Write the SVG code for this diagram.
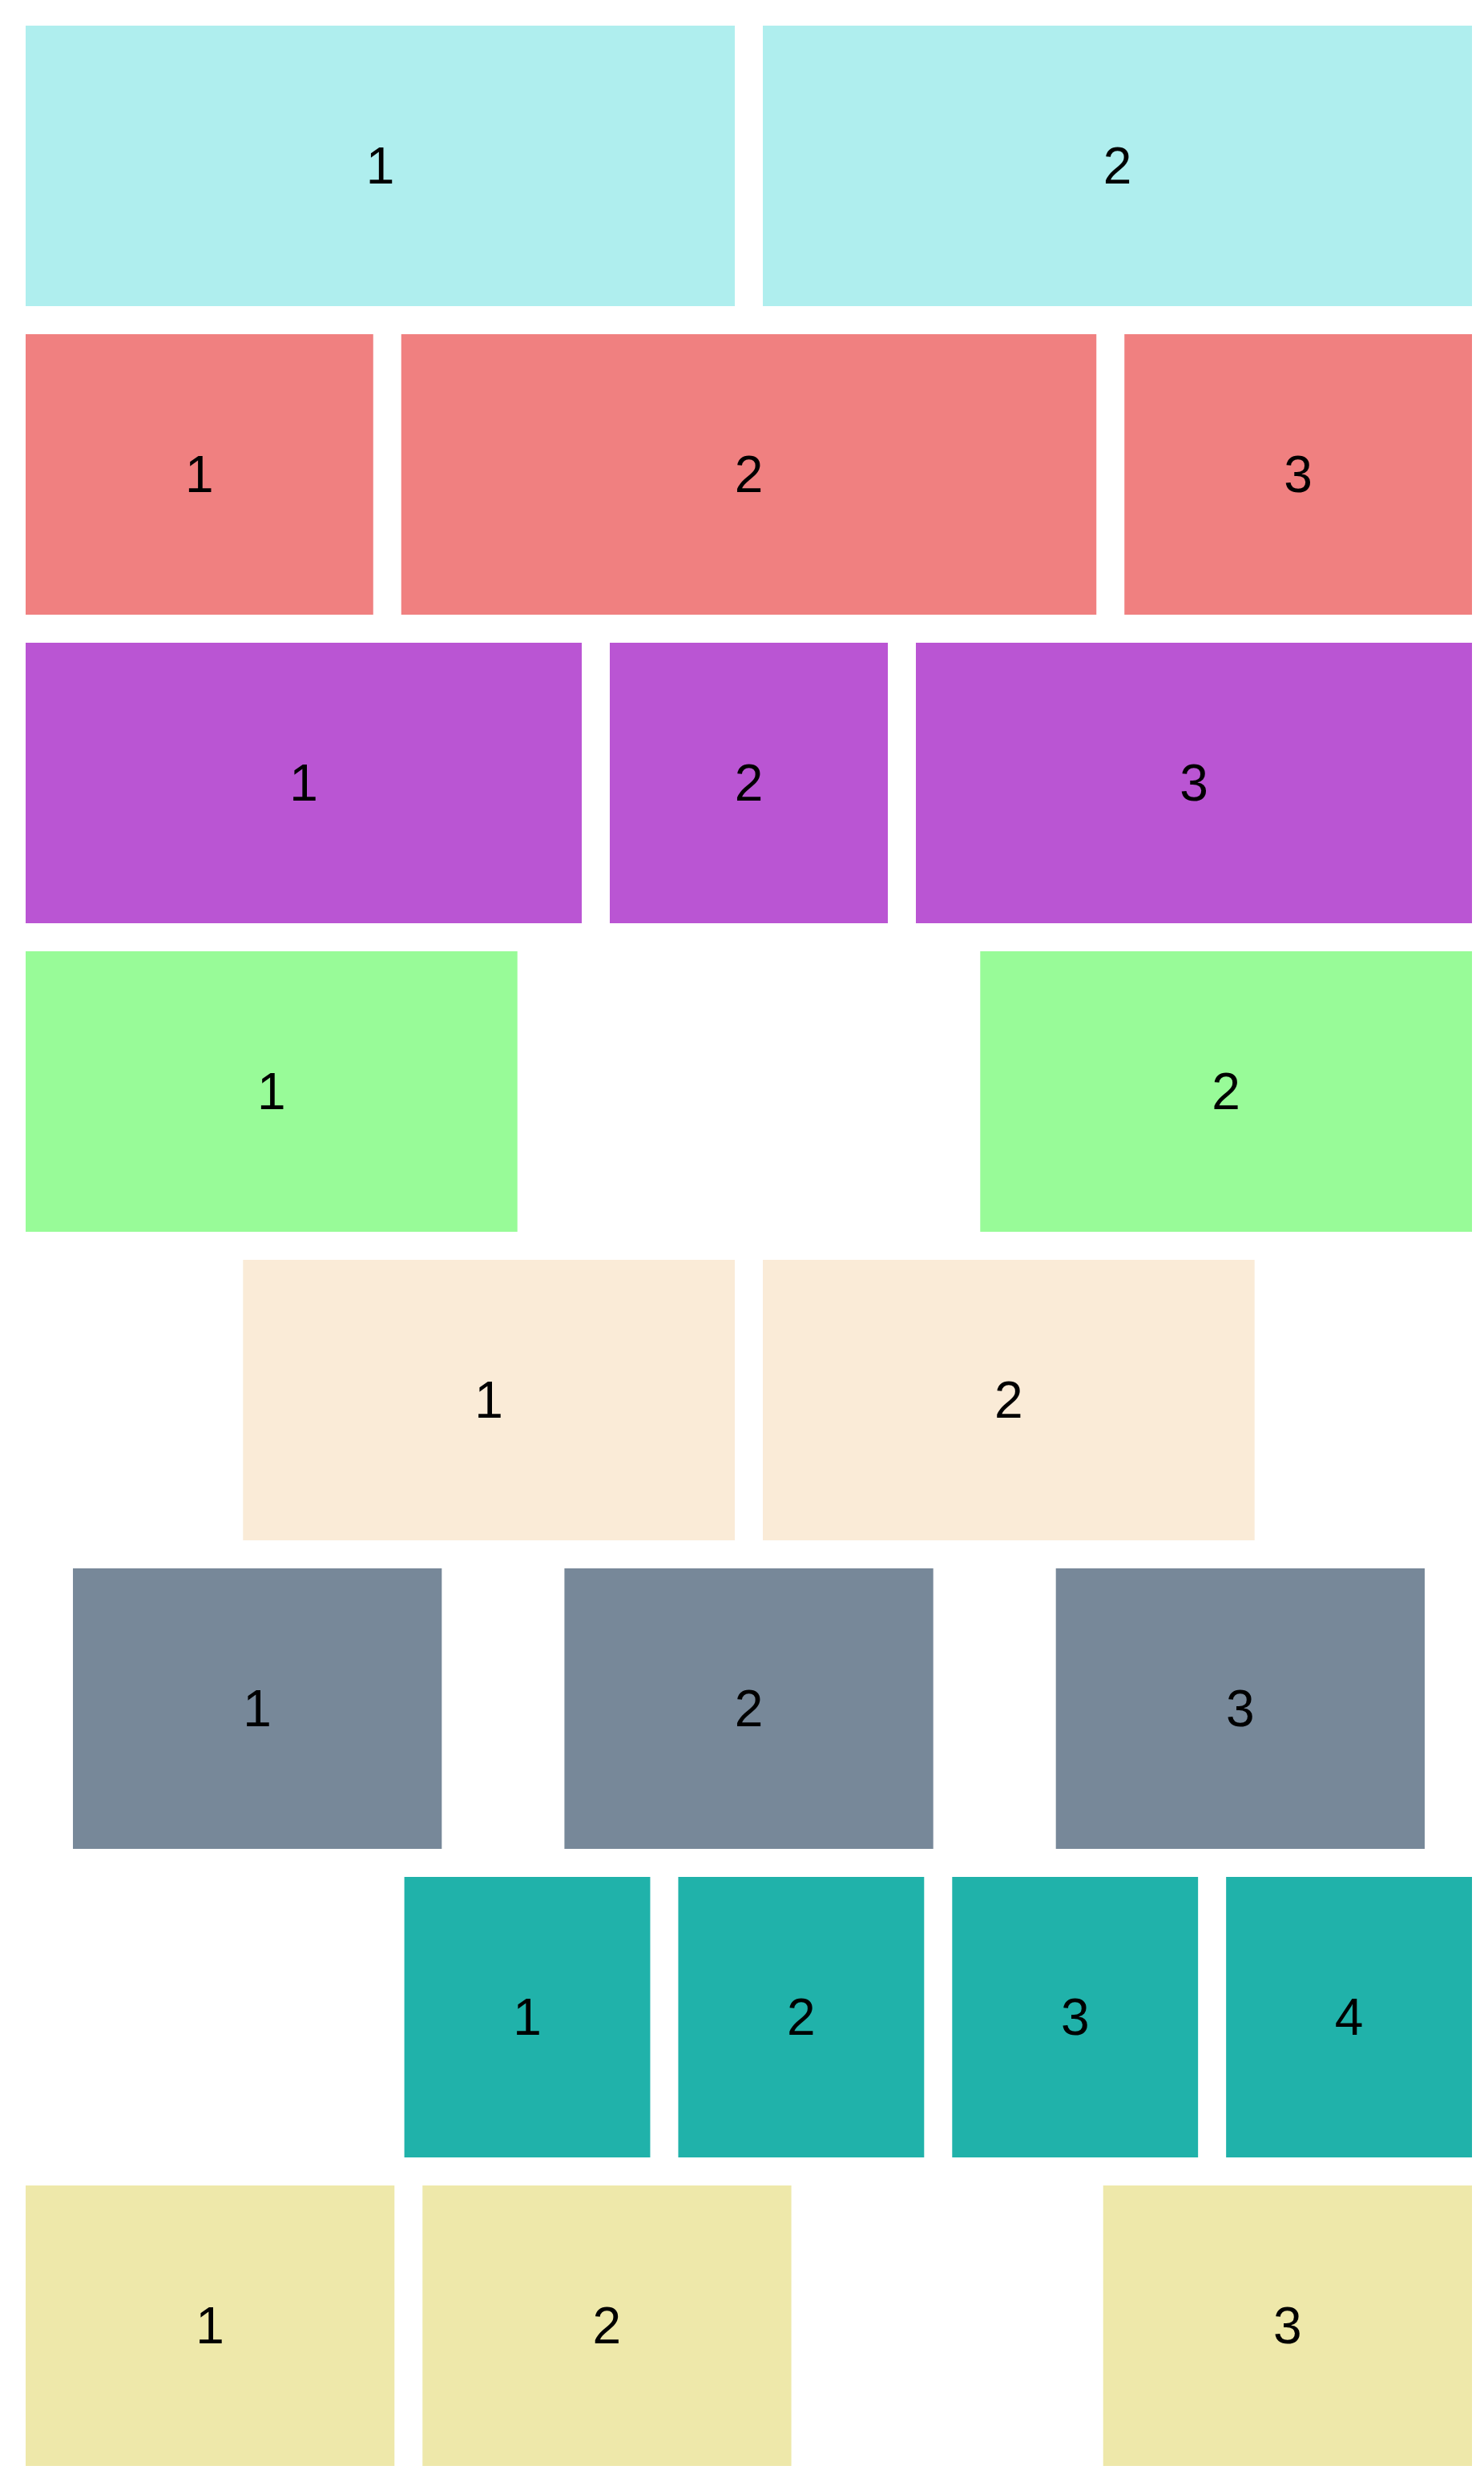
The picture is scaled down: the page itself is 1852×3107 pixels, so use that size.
<svg xmlns="http://www.w3.org/2000/svg" width="1852" height="3107" viewBox="0 0 1852 3107">
<style>
text{font-family:"Liberation Sans",Arial,sans-serif;font-size:64px;fill:#000;text-anchor:middle;dominant-baseline:central}
.r1{fill:#AFEEEE}.r2{fill:#F08080}.r3{fill:#BA55D3}.r4{fill:#98FB98}.r5{fill:#FAEBD7}.r6{fill:#778899}.r7{fill:#20B2AA}.r8{fill:#EEE8AA}
</style>
<rect width="1852" height="3107" fill="#fff"/>
<g id="row1">
<g id="r1b1"><rect class="r1" x="32" y="32" width="885" height="350"/><text x="474.5" y="207">1</text></g>
<g id="r1b2"><rect class="r1" x="952" y="32" width="885" height="350"/><text x="1394.5" y="207">2</text></g>
</g>
<g id="row2">
<g id="r2b1"><rect class="r2" x="32" y="417" width="433.75" height="350"/><text x="248.9" y="592">1</text></g>
<g id="r2b2"><rect class="r2" x="500.75" y="417" width="867.5" height="350"/><text x="934.5" y="592">2</text></g>
<g id="r2b3"><rect class="r2" x="1403.25" y="417" width="433.75" height="350"/><text x="1620.1" y="592">3</text></g>
</g>
<g id="row3">
<g id="r3b1"><rect class="r3" x="32" y="802" width="694" height="350"/><text x="379" y="977">1</text></g>
<g id="r3b2"><rect class="r3" x="761" y="802" width="347" height="350"/><text x="934.5" y="977">2</text></g>
<g id="r3b3"><rect class="r3" x="1143" y="802" width="694" height="350"/><text x="1490" y="977">3</text></g>
</g>
<g id="row4">
<g id="r4b1"><rect class="r4" x="32" y="1187" width="613.7" height="350"/><text x="338.85" y="1362">1</text></g>
<g id="r4b2"><rect class="r4" x="1223.3" y="1187" width="613.7" height="350"/><text x="1530.15" y="1362">2</text></g>
</g>
<g id="row5">
<g id="r5b1"><rect class="r5" x="303.3" y="1572" width="613.7" height="350"/><text x="610.15" y="1747">1</text></g>
<g id="r5b2"><rect class="r5" x="952" y="1572" width="613.7" height="350"/><text x="1258.85" y="1747">2</text></g>
</g>
<g id="row6">
<g id="r6b1"><rect class="r6" x="91.03" y="1957" width="460.28" height="350"/><text x="321.17" y="2132">1</text></g>
<g id="r6b2"><rect class="r6" x="704.4" y="1957" width="460.28" height="350"/><text x="934.5" y="2132">2</text></g>
<g id="r6b3"><rect class="r6" x="1317.7" y="1957" width="460.28" height="350"/><text x="1547.83" y="2132">3</text></g>
</g>
<g id="row7">
<g id="r7b1"><rect class="r7" x="504.6" y="2342" width="306.85" height="350"/><text x="658" y="2517">1</text></g>
<g id="r7b2"><rect class="r7" x="846.45" y="2342" width="306.85" height="350"/><text x="999.9" y="2517">2</text></g>
<g id="r7b3"><rect class="r7" x="1188.3" y="2342" width="306.85" height="350"/><text x="1341.7" y="2517">3</text></g>
<g id="r7b4"><rect class="r7" x="1530.15" y="2342" width="306.85" height="350"/><text x="1683.6" y="2517">4</text></g>
</g>
<g id="row8">
<g id="r8b1"><rect class="r8" x="32" y="2727" width="460.28" height="350"/><text x="262.14" y="2902">1</text></g>
<g id="r8b2"><rect class="r8" x="527.28" y="2727" width="460.28" height="350"/><text x="757.42" y="2902">2</text></g>
<g id="r8b3"><rect class="r8" x="1376.72" y="2727" width="460.28" height="350"/><text x="1606.86" y="2902">3</text></g>
</g>
<g id="connectors"/>
</svg>
